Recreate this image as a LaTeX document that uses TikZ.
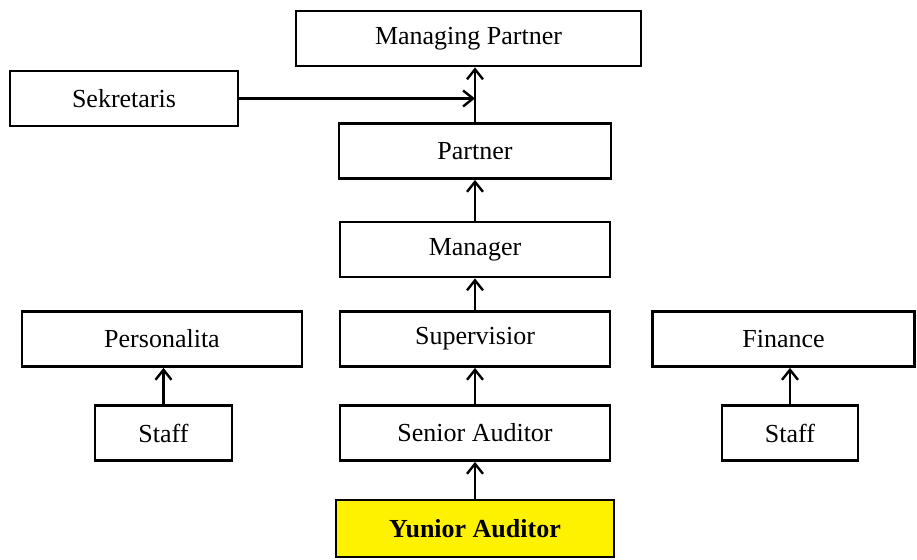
\documentclass[tikz,border=0pt]{standalone}
\usepackage{fontspec}
\setmainfont{Liberation Serif}
\usetikzlibrary{arrows.meta,positioning}
\tikzstyle{jabatan} = [draw=black,line width=1.4pt,rectangle,minimum height=27.5pt,inner sep=2pt,font=\fontsize{13}{15}\selectfont]
\tikzstyle{arrow} = [line width=1.2pt,-{Straight Barb[length=5pt,width=8pt,line width=1.2pt]},draw=black]

\begin{document}
\begin{tikzpicture}[x=0.5pt,y=-0.5pt]
            \useasboundingbox (0,0) rectangle (917,560);
            \node (MP) [jabatan, minimum width=172.5pt] at (468.5,38.5) {Managing Partner};
            \node (Sek) [jabatan, minimum width=114pt] at (124,98.5) {Sekretaris};
            \node (Par) [jabatan, minimum width=136pt] at (475,151) {Partner};
            \node (Man) [jabatan, minimum width=135pt] at (475,249.5) {Manager};
            \node (Sup) [jabatan, minimum width=135pt] at (475,339) {Supervisior};
            \node (Pers) [jabatan, minimum width=140pt] at (162,339) {Personalita};
            \node (Fin) [jabatan, minimum width=131pt] at (783.5,339) {Finance};
            \node (StL) [jabatan, minimum width=68.5pt] at (163.5,433) {Staff};
            \node (Sen) [jabatan, minimum width=135pt] at (475,433) {Senior Auditor};
            \node (StR) [jabatan, minimum width=68pt] at (790,433) {Staff};
            \node (Yun) [jabatan, minimum width=139pt, minimum height=28.5pt, fill=yellow, font=\fontsize{13}{15}\selectfont\bfseries] at (475,528.5) {Yunior Auditor};

            % garis komando
            \draw[arrow] (Yun) -- (Sen);
            \draw[arrow] (Sen) -- (Sup);
            \draw[arrow] (Sup) -- (Man);
            \draw[arrow] (Man) -- (Par);
            \draw[arrow] (Par.north) -- (Par.north |- MP.south);
            \draw[arrow] (Sek.east) -- (Sek.east -| Par.north);
            \draw[arrow] (StL.north) -- (StL.north |- Pers.south);
            \draw[arrow] (StR.north) -- (StR.north |- Fin.south);
\end{tikzpicture}
\end{document}
